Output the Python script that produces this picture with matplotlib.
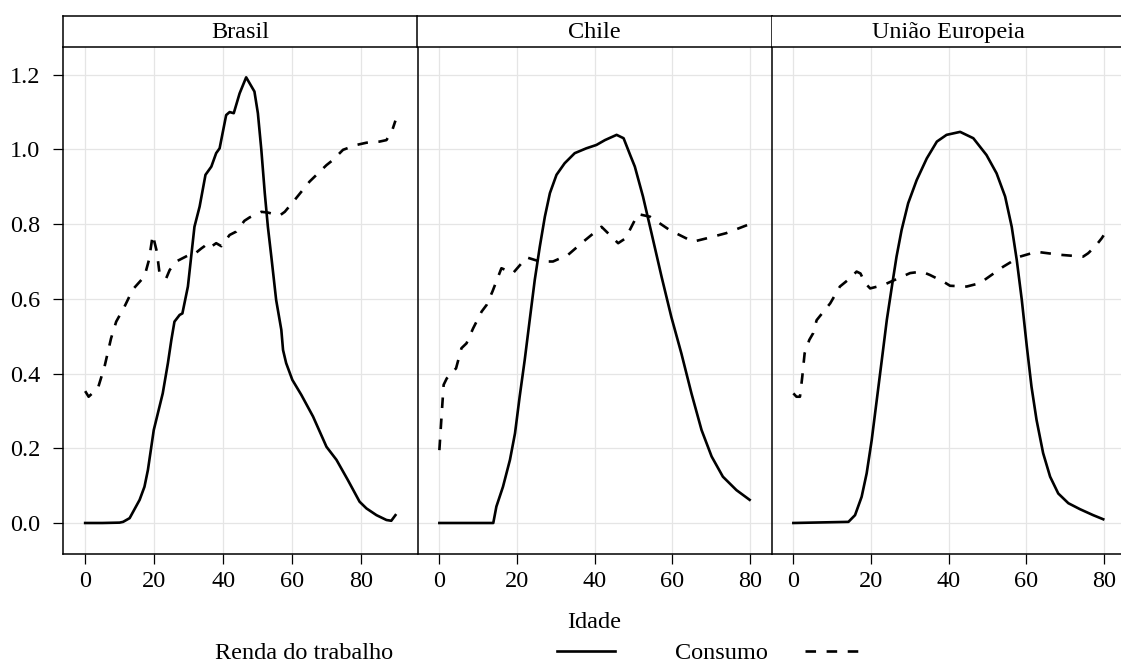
import matplotlib
matplotlib.use("Agg")
import matplotlib.pyplot as plt
from matplotlib.lines import Line2D

# ----------------------------
# Data
# ----------------------------
paises = ["Brasil", "Chile", "União Europeia"]

br_renda_idade = [0, 5, 10, 11, 12.9, 15.8, 17.2, 18.2, 19.9, 22.5, 24, 25, 25.9, 27.4, 28.2,
                  29.8, 31.7, 33.2, 34.9, 36.6, 38, 39, 40.9, 41.9, 43.1, 44.8, 46.7, 49.1,
                  50.1, 51.1, 52.1, 53, 54, 55.4, 56.9, 57.4, 58.3, 60.1, 62.7, 66.1, 70, 72.9,
                  76.2, 79.6, 81.6, 84.5, 87.4, 88.8, 90]
br_renda = [0, 0, 0.001, 0.003, 0.013, 0.062, 0.097, 0.142, 0.249, 0.347, 0.428, 0.49, 0.539,
            0.557, 0.561, 0.633, 0.793, 0.847, 0.932, 0.954, 0.99, 1.003, 1.092, 1.1, 1.097,
            1.15, 1.193, 1.155, 1.097, 0.999, 0.883, 0.793, 0.713, 0.597, 0.517, 0.463, 0.428,
            0.383, 0.343, 0.285, 0.204, 0.169, 0.115, 0.057, 0.039, 0.021, 0.008, 0.006, 0.021]
br_cons_idade = [0, 1, 3.7, 5.6, 7.5, 9, 11.4, 13.8, 17.2, 18.5, 19.6, 20.8, 21.6, 23.5, 24.5,
                 26.4, 29.8, 31.3, 33.7, 34.6, 35.6, 36.6, 38, 39.5, 41.9, 43.8, 46.2, 47.7,
                 51.1, 53, 56.4, 57.9, 60.8, 65.1, 70, 71.9, 74.8, 78.7, 81.6, 85.4, 87.4,
                 89.1, 90]
br_cons = [0.353, 0.338, 0.361, 0.418, 0.494, 0.539, 0.579, 0.625, 0.66, 0.704, 0.771, 0.726,
           0.666, 0.655, 0.677, 0.7, 0.716, 0.717, 0.735, 0.741, 0.749, 0.74, 0.749, 0.741,
           0.771, 0.78, 0.809, 0.818, 0.833, 0.831, 0.823, 0.833, 0.865, 0.914, 0.958, 0.972,
           0.999, 1.012, 1.018, 1.021, 1.025, 1.052, 1.077]

cl_renda_idade = [0, 13.9, 14.7, 16.4, 18.2, 19.5, 20.7, 22, 23.3, 24.6, 25.9, 27.2, 28.5,
                  30.2, 32.3, 34.9, 37.9, 40.5, 42.7, 45.7, 47.5, 49.2, 50.4, 52.5, 54.7,
                  57.3, 59.8, 62.4, 65, 67.6, 70.2, 73.1, 76.6, 80]
cl_renda = [0, 0, 0.044, 0.097, 0.169, 0.24, 0.338, 0.436, 0.544, 0.651, 0.74, 0.82, 0.883,
            0.932, 0.963, 0.99, 1.003, 1.012, 1.025, 1.039, 1.03, 0.985, 0.954, 0.874, 0.776,
            0.659, 0.552, 0.454, 0.347, 0.249, 0.178, 0.124, 0.088, 0.062]
cl_cons_idade = [0, 0.5, 1.1, 1.9, 4.3, 5.7, 7, 8.7, 10.9, 12.2, 13.7, 16, 19, 22.5, 25.9,
                 29.3, 33.2, 37.1, 41.8, 46.1, 48, 51.2, 54.3, 59.4, 65.4, 68.9, 74, 80]
cl_cons = [0.195, 0.276, 0.37, 0.387, 0.414, 0.468, 0.481, 0.521, 0.566, 0.584, 0.62, 0.682,
           0.669, 0.711, 0.7, 0.7, 0.718, 0.753, 0.793, 0.749, 0.762, 0.827, 0.82, 0.784,
           0.753, 0.762, 0.776, 0.8]

ue_renda_idade = [0, 14.2, 15.9, 17.6, 18.9, 20.2, 21.5, 22.8, 24.1, 25.4, 26.6, 27.9, 29.6,
                  31.8, 34.4, 37, 39.5, 43, 46.4, 49.8, 52.4, 54.6, 56.3, 57.6, 58.9, 60.2,
                  61.4, 62.7, 64.4, 66.2, 68.3, 70.9, 73.9, 77.3, 79.9]
ue_renda = [0, 0.003, 0.021, 0.07, 0.133, 0.222, 0.329, 0.436, 0.544, 0.633, 0.713, 0.784,
            0.856, 0.918, 0.976, 1.021, 1.039, 1.047, 1.03, 0.985, 0.936, 0.874, 0.793, 0.704,
            0.597, 0.472, 0.365, 0.276, 0.187, 0.124, 0.079, 0.053, 0.037, 0.021, 0.01]
ue_cons_idade = [0, 0.8, 1.7, 2.3, 2.9, 4.1, 5.1, 6, 9.5, 12, 14.6, 16.3, 17.3, 18.5, 19.8,
                 23.2, 26.2, 30.1, 33.1, 35.2, 38.7, 40.4, 44.7, 48.1, 54.1, 58.4, 62.7, 68.7,
                 74.7, 76, 77.8, 79.5, 80]
ue_cons = [0.347, 0.338, 0.338, 0.392, 0.454, 0.49, 0.508, 0.543, 0.588, 0.633, 0.655, 0.673,
           0.668, 0.642, 0.628, 0.637, 0.651, 0.669, 0.673, 0.664, 0.646, 0.635, 0.633, 0.642,
           0.686, 0.713, 0.726, 0.718, 0.713, 0.722, 0.74, 0.762, 0.77]

x_ticks = [0, 20, 40, 60, 80]
y_ticks = [0.0, 0.2, 0.4, 0.6, 0.8, 1.0, 1.2]
x_max = [90, 80, 80]

series = [
    (br_renda_idade, br_renda, br_cons_idade, br_cons),
    (cl_renda_idade, cl_renda, cl_cons_idade, cl_cons),
    (ue_renda_idade, ue_renda, ue_cons_idade, ue_cons),
]

# ----------------------------
# Style
# ----------------------------
plt.rcParams["font.family"] = ["Liberation Serif", "DejaVu Serif"]
FS = 17.5
W, H = 1121, 662
LW = 1.9
DASH = (0, (4, 4))

fig = plt.figure(figsize=(W / 100, H / 100), dpi=100)

panel_left = [63.3, 417.5, 771.5]
panel_w = 354
panel_top, panel_bot = 46.7, 554
strip_top = 15.7

for i, (nome, (xr, yr, xc, yc)) in enumerate(zip(paises, series)):
    x0 = panel_left[i] / W
    ax = fig.add_axes([x0, 1 - panel_bot / H, panel_w / W, (panel_bot - panel_top) / H])
    ax.plot(xr, yr, color="black", lw=LW, solid_joinstyle="round")
    ax.plot(xc, yc, color="black", lw=LW, linestyle=DASH, dash_capstyle="butt")

    pad = x_max[i] * 0.0705
    ax.set_xlim(-pad, x_max[i] + pad)
    ax.set_ylim(-0.083, 1.275)
    ax.set_xticks(x_ticks)
    ax.set_yticks(y_ticks)
    ax.grid(True, color="#E5E5E5", lw=0.9)
    ax.set_axisbelow(True)
    for s in ["top", "right"]:
        ax.spines[s].set_visible(False)
    for s in ["left", "bottom"]:
        ax.spines[s].set_linewidth(1.1)
        ax.spines[s].set_color("black")
    ax.tick_params(axis="x", length=7.5, width=0.9, pad=5, labelsize=FS)
    if i == 0:
        ax.set_yticklabels([f"{v:.1f}" for v in y_ticks])
        ax.tick_params(axis="y", length=7.5, width=0.9, pad=9, labelsize=FS)
    else:
        ax.tick_params(axis="y", length=0, labelleft=False)

    # strip
    sax = fig.add_axes([x0, 1 - panel_top / H, panel_w / W, (panel_top - strip_top) / H])
    sax.set_xticks([])
    sax.set_yticks([])
    for s in sax.spines.values():
        s.set_linewidth(1.1)
    if i > 0:
        sax.spines["left"].set_visible(False)
    sax.text(0.5, 0.47, nome, ha="center", va="center", fontsize=FS, transform=sax.transAxes)

# ----------------------------
# Axis title + legend
# ----------------------------
fig.text(594.4 / W, 1 - 628 / H, "Idade", ha="center", va="baseline", fontsize=FS)

ly = 1 - 651 / H
fig.text(215 / W, 1 - 659 / H, "Renda do trabalho", ha="left", va="baseline", fontsize=FS)
fig.add_artist(Line2D([557 / W, 615 / W], [ly, ly], color="black", lw=LW))
fig.text(675 / W, 1 - 659 / H, "Consumo", ha="left", va="baseline", fontsize=FS)
fig.add_artist(Line2D([805 / W, 863 / W], [ly, ly], color="black", lw=LW, linestyle=DASH,
                      dash_capstyle="butt"))

fig.savefig("out.png", dpi=100)
plt.close(fig)
